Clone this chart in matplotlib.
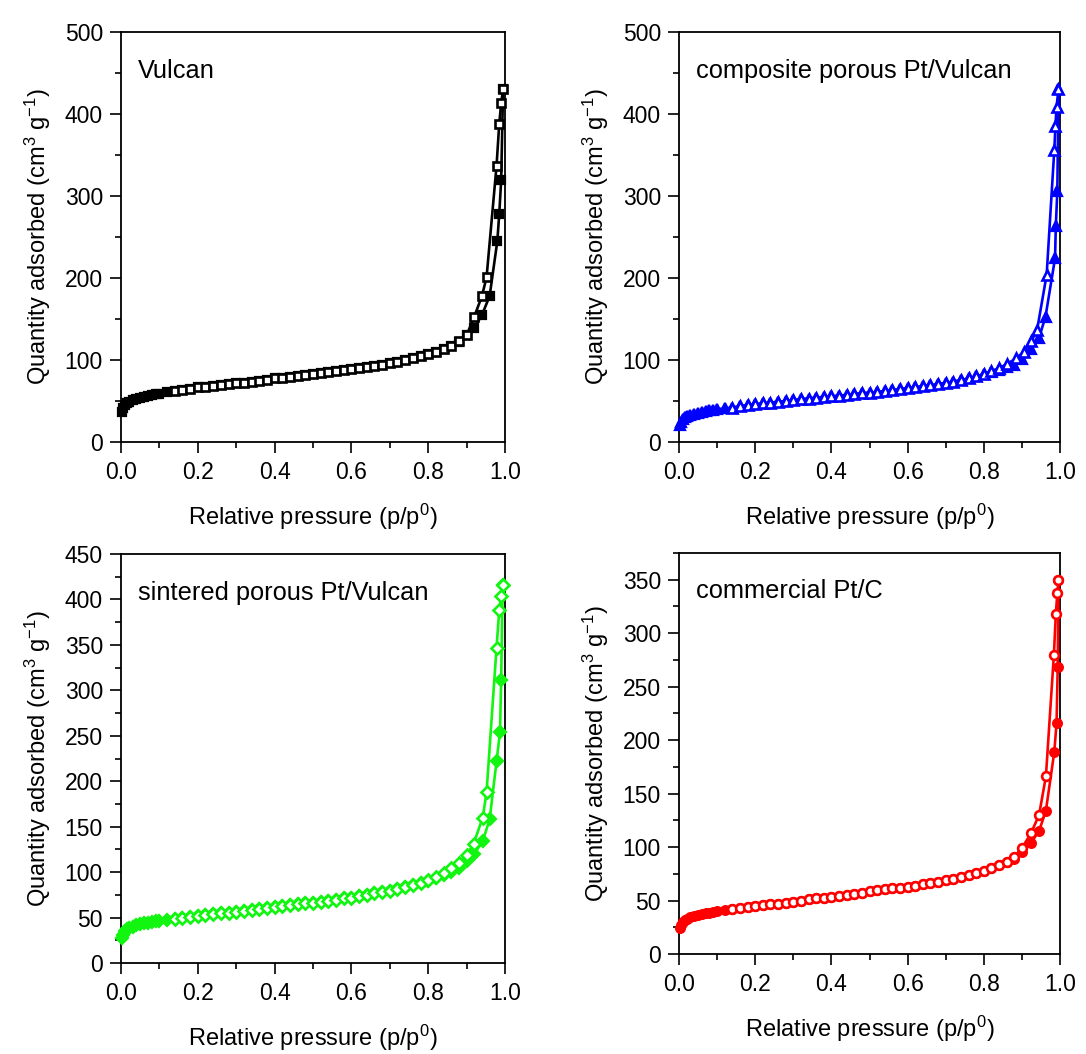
import matplotlib
matplotlib.use("Agg")
import matplotlib.pyplot as plt
from matplotlib.ticker import MultipleLocator

plt.rcParams['font.family'] = ['Liberation Sans', 'DejaVu Sans']
plt.rcParams['mathtext.fontset'] = 'custom'
plt.rcParams['mathtext.rm'] = 'Liberation Sans'
plt.rcParams['mathtext.it'] = 'Liberation Sans:italic'

# ---------------- data ----------------
LOW_P = [0.002, 0.005, 0.01, 0.015, 0.02, 0.03, 0.04, 0.05, 0.06, 0.07, 0.08, 0.09, 0.10, 0.12]
MID_P = [0.14, 0.16, 0.18, 0.20, 0.22, 0.24, 0.26, 0.28, 0.30, 0.32, 0.34, 0.36, 0.38,
         0.40, 0.42, 0.44, 0.46, 0.48, 0.50, 0.52, 0.54, 0.56, 0.58, 0.60, 0.62, 0.64,
         0.66, 0.68, 0.70, 0.72, 0.74, 0.76, 0.78, 0.80, 0.82, 0.84, 0.86]

# Vulcan
vulcan_ads_high_p = [0.88, 0.90, 0.92, 0.94, 0.96, 0.98, 0.985, 0.99, 0.995]
vulcan_des_high_p = [0.88, 0.90, 0.92, 0.94, 0.952, 0.978, 0.985, 0.99, 0.995]
vulcan_ads_q = [37, 41, 45, 47.5, 49, 51, 52.5, 54, 55, 56, 57, 58, 59, 60.5,
                62, 63.5, 65, 66.5, 67.5, 68.5, 69.5, 70.5, 71.5, 72.5, 73.5, 75, 76,
                77.5, 78.5, 79.5, 80.5, 81.5, 83, 84, 85, 86, 87.5, 89, 90, 91.5,
                93, 94.5, 96, 98, 100, 102, 104.5, 107, 110, 113, 117,
                122, 130, 139, 155, 178, 245, 278, 319, 430]
vulcan_des_q = [62, 63.5, 65, 66.5, 67.5, 68.5, 69.5, 70.5, 71.5, 72.5, 73.5, 75, 76,
                77.5, 78.5, 79.5, 80.5, 81.5, 83, 84, 85, 86, 87.5, 89, 90, 91.5,
                93, 94.5, 96, 98, 100, 102, 104.5, 107, 110, 113, 117,
                123, 130, 153, 178, 201, 337, 388, 413, 430]

# composite porous Pt/Vulcan
comp_ads_high_p = [0.88, 0.90, 0.925, 0.945, 0.962, 0.987, 0.989, 0.993, 0.996]
comp_des_high_p = [0.885, 0.905, 0.925, 0.94, 0.965, 0.985, 0.988, 0.991, 0.996]
comp_ads_q = [21, 25, 28, 30, 31.5, 33, 34.5, 35.5, 36.5, 37.5, 38.5, 39, 40, 41,
              42, 43.5, 45, 46, 47, 48, 49, 50, 51, 52, 53, 54, 55,
              55.5, 56.5, 57.5, 58.5, 59.5, 60, 61, 62, 63, 64.5, 65.5, 66.5, 68,
              69, 70.5, 72, 73.5, 75.5, 77.5, 80, 82.5, 85, 88, 91,
              94, 101, 113, 127, 153, 224, 263, 306, 430]
comp_des_q = [42, 43.5, 45, 46, 47, 48, 49, 50, 51, 52, 53, 54, 55,
              55.5, 56.5, 57.5, 58.5, 59.5, 60, 61, 62, 63, 64.5, 65.5, 66.5, 68,
              69, 70.5, 72, 73.5, 75.5, 77.5, 80, 83, 86.5, 90, 95,
              102, 110, 123, 137, 204, 356, 385, 409, 430]

# sintered porous Pt/Vulcan
sint_ads_high_p = [0.88, 0.90, 0.92, 0.942, 0.96, 0.978, 0.987, 0.99, 0.994]
sint_des_high_p = [0.88, 0.90, 0.918, 0.942, 0.952, 0.978, 0.985, 0.99, 0.994]
sint_ads_q = [27, 31, 35, 37, 38.5, 40, 41.5, 42.5, 43.5, 44.5, 45, 46, 46.5, 47.5,
              48.5, 49.5, 50.5, 51.5, 52.5, 53.5, 54.5, 55.5, 56.5, 57.5, 58.5, 59.5, 60.5,
              61.5, 62.5, 63.5, 64.5, 65.5, 66.5, 67.5, 68.5, 69.5, 71, 72, 73.5, 75,
              76.5, 78, 79.5, 81.5, 83.5, 85.5, 88, 90.5, 93.5, 97, 100.5,
              105, 112, 120, 134, 158, 222, 254, 311, 416]
sint_des_q = [48.5, 49.5, 50.5, 51.5, 52.5, 53.5, 54.5, 55.5, 56.5, 57.5, 58.5, 59.5, 60.5,
              61.5, 62.5, 63.5, 64.5, 65.5, 66.5, 67.5, 68.5, 69.5, 71, 72, 73.5, 75,
              76.5, 78, 79.5, 81.5, 83.5, 85.5, 88, 91, 95, 99.5, 104,
              110, 119, 131, 160, 188, 347, 388, 404, 416]

# commercial Pt/C
comm_ads_high_p = [0.88, 0.90, 0.924, 0.945, 0.963, 0.985, 0.991, 0.994, 0.996]
comm_des_high_p = [0.88, 0.90, 0.924, 0.945, 0.963, 0.984, 0.989, 0.993, 0.996]
comm_ads_q = [24, 27.5, 30, 31.5, 33, 34.5, 35.5, 36.5, 37.5, 38, 38.5, 39, 40, 41,
              42, 43, 43.5, 44.5, 45.5, 46.5, 47, 48, 49, 50, 51, 52, 52.5,
              53.5, 54.5, 55.5, 56.5, 57.5, 58.5, 59.5, 60.5, 61.5, 62, 63, 64, 65,
              66.5, 67.5, 69, 70.5, 72, 74, 76, 78, 80, 83, 86,
              89, 95, 104, 115, 134, 189, 216, 268, 350]
comm_des_q = [42, 43, 43.5, 44.5, 45.5, 46.5, 47, 48, 49, 50, 51, 52, 52.5,
              53.5, 54.5, 55.5, 56.5, 57.5, 58.5, 59.5, 60.5, 61.5, 62, 63, 64, 65,
              66.5, 67.5, 69, 70.5, 72, 74, 76, 78, 80, 83, 86,
              91, 99, 113, 130, 166, 280, 318, 337.5, 350]

panels = [
    dict(title="Vulcan", color="#000000", marker="s", ms=6.3,
         ads_p=LOW_P + MID_P + vulcan_ads_high_p, ads_q=vulcan_ads_q,
         des_p=MID_P + vulcan_des_high_p, des_q=vulcan_des_q,
         ymax=500, major=100, minor=50,
         rect=[121, 32, 505, 442]),
    dict(title="composite porous Pt/Vulcan", color="#0000ff", marker="^", ms=7.3,
         ads_p=LOW_P + MID_P + comp_ads_high_p, ads_q=comp_ads_q,
         des_p=MID_P + comp_des_high_p, des_q=comp_des_q,
         ymax=500, major=100, minor=50,
         rect=[679, 32, 1060, 442]),
    dict(title="sintered porous Pt/Vulcan", color="#11f511", marker="D", ms=6.2,
         ads_p=LOW_P + MID_P + sint_ads_high_p, ads_q=sint_ads_q,
         des_p=MID_P + sint_des_high_p, des_q=sint_des_q,
         ymax=450, major=50, minor=25,
         rect=[121, 554, 505, 963]),
    dict(title="commercial Pt/C", color="#ff0000", marker="o", ms=6.3,
         ads_p=LOW_P + MID_P + comm_ads_high_p, ads_q=comm_ads_q,
         des_p=MID_P + comm_des_high_p, des_q=comm_des_q,
         ymax=375, major=50, minor=25,
         rect=[679, 553, 1060, 954]),
]

W, H = 1086, 1054
fig = plt.figure(figsize=(W / 100, H / 100), dpi=100)

for pnl in panels:
    l, t, r, b = pnl["rect"]
    ax = fig.add_axes([l / W, (H - b) / H, (r - l) / W, (b - t) / H])
    c = pnl["color"]
    ax.plot(pnl["ads_p"], pnl["ads_q"], color=c, lw=1.9, marker=pnl["marker"],
            ms=pnl["ms"], mfc=c, mec=c, mew=1.6, clip_on=False, zorder=3)
    ax.plot(pnl["des_p"], pnl["des_q"], color=c, lw=1.9, marker=pnl["marker"],
            ms=pnl["ms"], mfc="white", mec=c, mew=1.9, clip_on=False, zorder=4)
    ax.set_xlim(0, 1.0)
    ax.set_ylim(0, pnl["ymax"])
    ax.xaxis.set_major_locator(MultipleLocator(0.2))
    ax.xaxis.set_minor_locator(MultipleLocator(0.1))
    ax.yaxis.set_major_locator(MultipleLocator(pnl["major"]))
    ax.yaxis.set_minor_locator(MultipleLocator(pnl["minor"]))
    ax.xaxis.set_major_formatter(plt.FormatStrFormatter('%.1f'))
    ax.tick_params(which='major', direction='out', length=8, width=1.2,
                   labelsize=16.5, top=False, right=False, pad=5)
    ax.tick_params(which='minor', direction='out', length=4.3, width=1.2,
                   top=False, right=False)
    ax.tick_params(axis='x', which='major', pad=6)
    for s in ax.spines.values():
        s.set_linewidth(1.3)
    ax.set_xlabel(r"Relative pressure (p/p$^\mathregular{0}$)", fontsize=17)
    ax.set_ylabel(r"Quantity adsorbed (cm$^\mathregular{3}$ g$^\mathregular{-1}$)", fontsize=17)
    h_px = b - t
    w_px = r - l
    ax.xaxis.set_label_coords(0.5, -(517 - 442) / h_px)
    ax.xaxis.label.set_va('center')
    ax.yaxis.set_label_coords(-(121 - 38) / w_px, 0.5)
    ax.yaxis.label.set_va('center')
    ax.text(0.045, 0.905, pnl["title"], transform=ax.transAxes, fontsize=18.3,
            ha='left', va='center')

fig.savefig("out.png", dpi=100, facecolor="white")
